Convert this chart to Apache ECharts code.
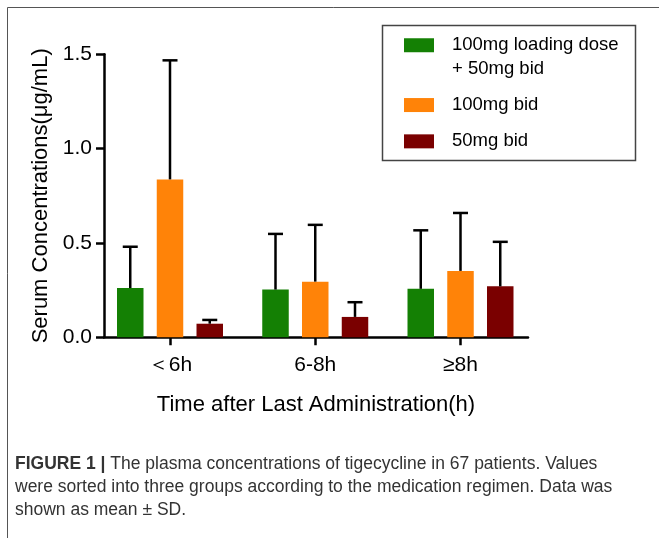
<!DOCTYPE html>
<html><head><meta charset="utf-8">
<script src="https://cdn.jsdelivr.net/npm/echarts@6/dist/echarts.min.js"></script>
<style>html,body{margin:0;padding:0;background:#fff}#c{width:659px;height:538px}</style>
</head><body><div id="c"></div><script>
// ---- data ----
const categories = ['＜6h', '6-8h', '≥8h'];
const xPos = [0, 1, 2];
const seriesNames = ['100mg loading dose + 50mg bid', '100mg bid', '50mg bid'];
const legendLabels = ['\n100mg loading dose\n+ 50mg bid', '100mg bid', '50mg bid'];
const meanLoading = [0.261, 0.253, 0.257];
const sdLoading = [0.219, 0.295, 0.310];
const meanHigh = [0.837, 0.295, 0.352];
const sdHigh = [0.631, 0.301, 0.307];
const meanLow = [0.072, 0.108, 0.270];
const sdLow = [0.020, 0.078, 0.236];
const yTicks = [0, 0.5, 1.0, 1.5];

// ---- style ----
const colors = ['#148004', '#ff8308', '#7a0000'];
const FONT = "'Liberation Sans', Arial, Helvetica, sans-serif";
const BAR_W = 26.5, BAR_GAP = 0.5, CAP = 15;
const X_MIN = -0.4544, X_MAX = 2.4647;

const means = [meanLoading, meanHigh, meanLow];
const sds = [sdLoading, sdHigh, sdLow];

const chart = echarts.init(document.getElementById('c'), null, {renderer: 'canvas'});

const series = [];
means.forEach((m, k) => {
  series.push({
    type: 'bar', name: seriesNames[k], barWidth: BAR_W, barGap: (BAR_GAP * 100) + '%',
    itemStyle: {color: colors[k]},
    data: xPos.map((x, i) => [x, m[i]]),
    z: 2
  });
});
means.forEach((m, k) => {
  series.push({
    type: 'custom', name: 'err' + k, silent: true, z: 3,
    encode: {x: 0, y: 1},
    data: xPos.map((x, i) => [x, m[i], sds[k][i]]),
    renderItem: function (params, api) {
      const x = api.value(0), mv = api.value(1), s = api.value(2);
      const off = (k - 1) * BAR_W * (1 + BAR_GAP);
      const p0 = api.coord([x, mv]);
      const p1 = api.coord([x, mv + s]);
      const cx = p0[0] + off;
      const st = {stroke: '#000', lineWidth: 2.5};
      return {type: 'group', children: [
        {type: 'line', shape: {x1: cx, y1: p0[1], x2: cx, y2: p1[1]}, style: st},
        {type: 'line', shape: {x1: cx - CAP / 2, y1: p1[1], x2: cx + CAP / 2, y2: p1[1]}, style: st}
      ]};
    }
  });
});

chart.setOption({
  animation: false,
  backgroundColor: '#fff',
  textStyle: {fontFamily: FONT},
  grid: {left: 104, right: 131, top: 54.3, bottom: 200.7, containLabel: false},
  xAxis: {
    type: 'value', min: X_MIN, max: X_MAX,
    name: 'Time after Last Administration(h)', nameLocation: 'middle', nameGap: 57,
    nameTextStyle: {fontSize: 22, color: '#000', fontFamily: FONT},
    axisLine: {onZero: false, lineStyle: {color: '#000', width: 2.5}},
    axisTick: {show: true, length: 8, lineStyle: {color: '#000', width: 2.5}, customValues: xPos},
    axisLabel: {customValues: xPos, margin: 17, fontSize: 21, color: '#000', fontFamily: FONT,
      formatter: v => categories[Math.round(v)]},
    splitLine: {show: false}
  },
  yAxis: {
    type: 'value', min: 0, max: 1.5, interval: 0.5,
    name: 'Serum Concentrations(μg/mL)', nameLocation: 'middle', nameGap: 52, nameRotate: 90,
    nameTextStyle: {fontSize: 22, color: '#000', fontFamily: FONT},
    axisLine: {show: true, onZero: false, lineStyle: {color: '#000', width: 2.5}},
    axisTick: {show: true, length: 8, lineStyle: {color: '#000', width: 2.5}},
    axisLabel: {margin: 12, fontSize: 21, color: '#000', fontFamily: FONT,
      formatter: v => v.toFixed(1)},
    splitLine: {show: false}
  },
  legend: {
    orient: 'vertical', left: 404, top: 10, padding: 0, itemGap: 12.8,
    itemWidth: 30, itemHeight: 14, icon: 'rect',
    data: seriesNames,
    formatter: name => legendLabels[seriesNames.indexOf(name)],
    textStyle: {fontSize: 18.5, lineHeight: 23.5, color: '#000', fontFamily: FONT, padding: [0, 0, 0, 13]},
    selectedMode: false
  },
  graphic: [
    {type: 'rect', shape: {x: 7.5, y: 7.5, width: 800, height: 800},
      style: {fill: 'none', stroke: '#555', lineWidth: 1}, silent: true, z: 0},
    {type: 'rect', shape: {x: 382.5, y: 25.5, width: 253, height: 135},
      style: {fill: 'none', stroke: '#444', lineWidth: 1.5}, silent: true, z: 0},
    {type: 'text', left: 15, top: 453, silent: true,
      style: {
        text: '{b|FIGURE 1 |} The plasma concentrations of tigecycline in 67 patients. Values\nwere sorted into three groups according to the medication regimen. Data was\nshown as mean ± SD.',
        fontSize: 17.5, fontFamily: FONT, fill: '#333', lineHeight: 23,
        rich: {b: {fontSize: 17.5, fontFamily: FONT, fontWeight: 'bold', fill: '#333', lineHeight: 23}}
      }}
  ],
  series: series
});
</script></body></html>
